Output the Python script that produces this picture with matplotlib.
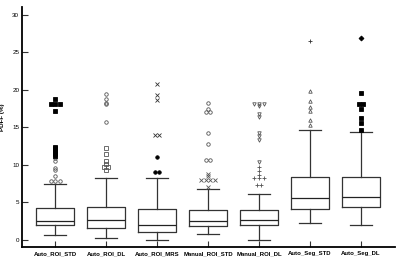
import numpy as np
import matplotlib
matplotlib.use("Agg")
import matplotlib.pyplot as plt

plt.rcParams["font.family"] = ["Liberation Sans", "DejaVu Sans"]

GRUPOS = ["Auto_ROI_STD", "Auto_ROI_DL", "Auto_ROI_MRS", "Manual_ROI_STD",
          "Manual_ROI_DL", "Auto_Seg_STD", "Auto_Seg_DL"]

# box stats: whisker low, Q1, median, Q3, whisker high
WHISLO = [0.67, 0.30, 0.00, 0.80, 0.00, 2.27, 1.95]
Q1 = [1.95, 1.65, 1.07, 1.91, 1.95, 4.20, 4.36]
MEDIANA = [2.60, 2.67, 1.95, 2.53, 2.62, 5.60, 5.73]
Q3 = [4.27, 4.36, 4.09, 3.96, 3.96, 8.44, 8.36]
WHISHI = [7.50, 8.27, 8.27, 6.76, 6.13, 14.6, 14.4]

# outliers (repeated values are drawn side by side)
OUT_PERTO = [
    [7.9, 7.9, 7.9, 8.5, 9.3, 9.6, 10.5, 10.9],
    [9.3, 9.7, 9.7, 10.1, 10.5, 11.4, 12.2],
    [9.1, 9.1, 11.0],
    [7.1, 8.0, 8.0, 8.0, 8.0, 8.5, 8.8],
    [7.3, 7.3, 8.2, 8.2, 8.2, 8.7, 9.2, 9.7],
    [15.3, 16.0, 17.2, 17.7, 18.5, 19.8],
    [14.6, 15.6, 16.2, 17.5, 18.1, 18.1, 19.6],
]
OUT_LONGE = [
    [11.2, 11.4, 11.6, 11.8, 12.0, 12.2, 12.4, 17.2, 18.1, 18.1, 18.1, 18.8],
    [15.7, 18.1, 18.3, 18.8, 19.5],
    [14.0, 14.0, 18.7, 19.3, 20.7],
    [10.6, 10.6, 12.8, 14.3, 17.0, 17.0, 17.4, 18.2],
    [10.4, 13.3, 13.8, 14.2, 16.4, 16.8, 17.8, 18.1, 18.1, 18.1],
    [26.5],
    [26.9],
]

CINZA = "#555555"
ESTILO_PERTO = [
    dict(marker="o", mfc="none", mec=CINZA),
    dict(marker="s", mfc="none", mec=CINZA),
    dict(marker="o", mfc="black", mec="black"),
    dict(marker="x", mfc="none", mec=CINZA),
    dict(marker="+", mfc="none", mec=CINZA),
    dict(marker="^", mfc="none", mec=CINZA),
    dict(marker="s", mfc="black", mec="black"),
]
ESTILO_LONGE = [
    dict(marker="s", mfc="black", mec="black"),
    dict(marker="o", mfc="none", mec=CINZA),
    dict(marker="x", mfc="none", mec="#333333"),
    dict(marker="o", mfc="none", mec=CINZA),
    dict(marker="v", mfc="none", mec=CINZA),
    dict(marker="+", mfc="none", mec="#333333"),
    dict(marker="D", mfc="black", mec="black"),
]


def _espalhar(valores, pos, passo=0.09):
    xs = []
    vals = np.asarray(valores)
    for i, v in enumerate(vals):
        iguais = np.flatnonzero(vals == v)
        k = len(iguais)
        j = int(np.flatnonzero(iguais == i)[0])
        xs.append(pos + (j - (k - 1) / 2) * passo)
    return xs


fig = plt.figure(figsize=(4, 2.62), dpi=100)
ax = fig.add_axes([0.055, 0.057, 0.9325, 0.916])

pos = np.arange(1, len(GRUPOS) + 1)
stats = [dict(whislo=a, q1=b, med=c, q3=d, whishi=e)
         for a, b, c, d, e in zip(WHISLO, Q1, MEDIANA, Q3, WHISHI)]
linha = dict(color="#333333", linewidth=0.9)
ax.bxp(stats, positions=pos, widths=0.75, showfliers=False,
       boxprops=linha, whiskerprops=linha, capprops=linha,
       medianprops=dict(color="#222222", linewidth=0.9), capwidths=0.42)

for p, perto, longe, ep, el in zip(pos, OUT_PERTO, OUT_LONGE, ESTILO_PERTO, ESTILO_LONGE):
    ax.plot(_espalhar(perto, p), perto, ls="none", ms=2.5, mew=0.6, **ep)
    ax.plot(_espalhar(longe, p), longe, ls="none", ms=2.5, mew=0.6, **el)

ax.set_xlim(0.35, 7.67)
ax.set_ylim(-0.93, 31)
ax.set_yticks(range(0, 31, 5))
ax.set_xticks(pos, GRUPOS)
ax.tick_params(axis="both", direction="in", length=4, width=0.8, color="#333333")
ax.tick_params(axis="y", labelsize=4.5, pad=2)
ax.tick_params(axis="x", labelsize=4.3, pad=3)
for t in ax.get_xticklabels():
    t.set_fontweight("bold")
for s in ["top", "right"]:
    ax.spines[s].set_visible(False)
for s in ["left", "bottom"]:
    ax.spines[s].set_linewidth(1.3)
ax.set_ylabel("PDFF (%)", fontsize=4.5, fontweight="bold")
ax.yaxis.set_label_coords(-0.045, 0.54)

fig.savefig("out.png", dpi=100)
